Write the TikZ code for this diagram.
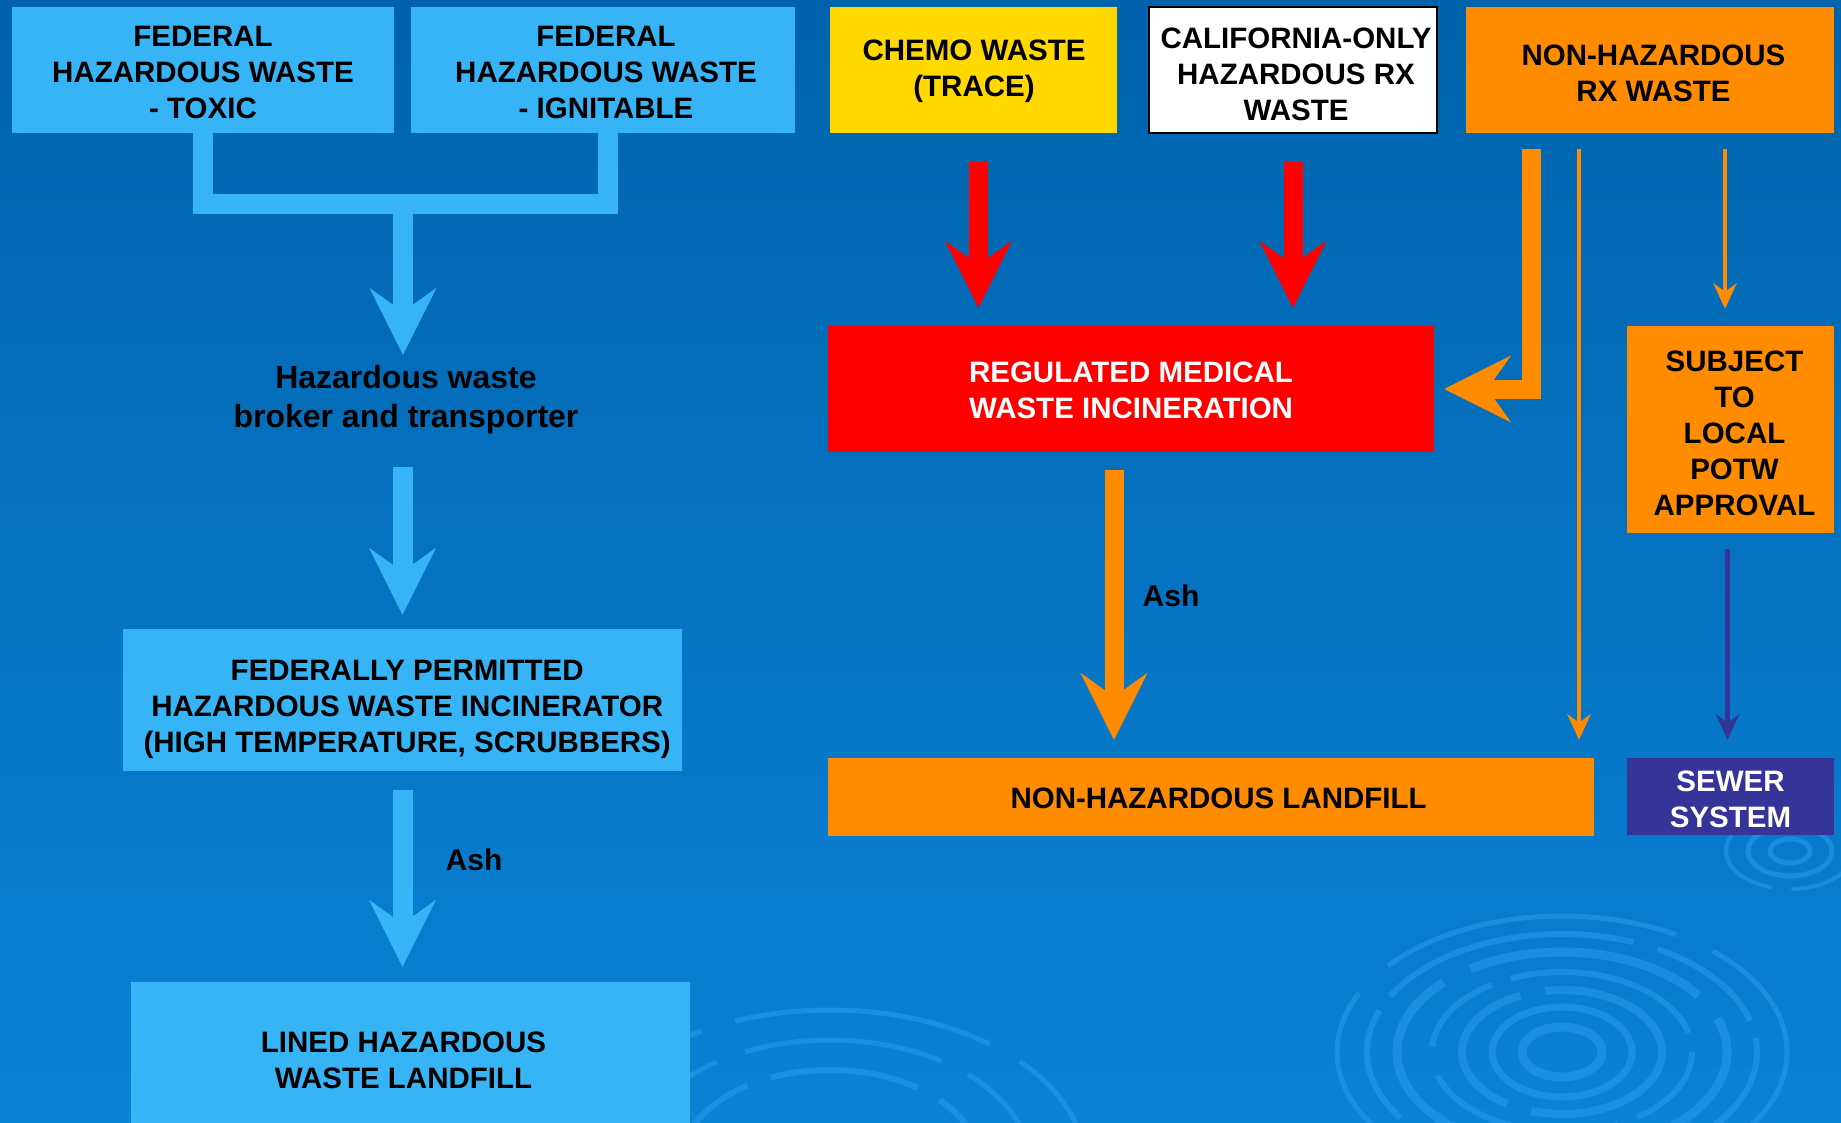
\documentclass[tikz,border=0pt]{standalone}
\usepackage{fontspec}
\setmainfont{Liberation Sans}
\usetikzlibrary{arrows.meta,calc}
\definecolor{bgtop}{HTML}{0063AC}
\definecolor{bgbot}{HTML}{0A82D6}
\definecolor{lblue}{HTML}{36B4F6}
\definecolor{ylw}{HTML}{FFD800}
\definecolor{org}{HTML}{FF8C00}
\definecolor{rd}{HTML}{FF0000}
\definecolor{prp}{HTML}{343499}
\definecolor{ripple}{HTML}{2A9BEE}
\begin{document}
\begin{tikzpicture}[x=1pt,y=-1pt,
  box/.style={inner sep=0pt},
  tx/.style={inner sep=0pt, align=center, font=\fontsize{29.5}{36}\selectfont\bfseries},
  lbl/.style={inner sep=0pt, align=center, font=\fontsize{30}{39}\selectfont\bfseries},
  bigtip/.style={-{Stealth[length=67pt, width=67pt, inset=24pt, line width=0pt]}},
  smalltip/.style={-{Stealth[length=26pt, width=24pt, inset=9pt, line width=0pt]}},
  lbar/.style={draw=lblue, line width=20pt, line join=miter},
  rbar/.style={draw=rd, line width=19pt, bigtip},
  obar/.style={draw=org, line width=19pt, line join=miter, bigtip},
  othin/.style={draw=org, line width=4.5pt, smalltip},
  pthin/.style={draw=prp, line width=4.5pt, smalltip},
  ring/.style={draw=ripple, opacity=0.55}
]
\useasboundingbox (0,0) rectangle (1841,1123);
\clip (0,0) rectangle (1841,1123);
\fill[top color=bgtop, bottom color=bgbot] (0,0) rectangle (1841,1123);

% decorative ripples
\begin{scope}
  \draw[ring, line width=9pt] (1562,1052) ellipse [x radius=40, y radius=25];
  \draw[ring, line width=7pt] (1562,1052) ellipse [x radius=70, y radius=45];
  \draw[ring, line width=8pt, dash pattern=on 160pt off 25pt] (1562,1052) ellipse [x radius=100, y radius=62];
  \draw[ring, line width=6pt, dash pattern=on 90pt off 20pt on 200pt off 30pt] (1562,1052) ellipse [x radius=130, y radius=80];
  \draw[ring, line width=9pt, dash pattern=on 240pt off 30pt] (1562,1052) ellipse [x radius=165, y radius=100];
  \draw[ring, line width=6pt, dash pattern=on 120pt off 18pt on 260pt off 25pt] (1562,1052) ellipse [x radius=195, y radius=118];
  \draw[ring, line width=5pt, dash pattern=on 300pt off 40pt] (1562,1052) ellipse [x radius=225, y radius=136];
  \draw[ring, line width=5pt] (1790,851) ellipse [x radius=20, y radius=12];
  \draw[ring, line width=5pt] (1790,851) ellipse [x radius=42, y radius=25];
  \draw[ring, line width=4pt, dash pattern=on 80pt off 20pt] (1790,851) ellipse [x radius=64, y radius=38];
  \draw[ring, line width=6pt, dash pattern=on 150pt off 25pt] (830,1165) ellipse [x radius=150, y radius=95];
  \draw[ring, line width=5pt, dash pattern=on 200pt off 30pt] (830,1165) ellipse [x radius=200, y radius=125];
  \draw[ring, line width=5pt, dash pattern=on 260pt off 35pt] (830,1165) ellipse [x radius=255, y radius=155];
\end{scope}

% boxes
\node[box, fill=lblue, minimum width=382pt, minimum height=126pt] (fedtox) at (203,70) {};
\node[box, fill=lblue, minimum width=384pt, minimum height=126pt] (fedign) at (603,70) {};
\node[box, fill=ylw, minimum width=287pt, minimum height=126pt] (chemo) at (973.5,70) {};
\node[box, fill=white, draw=black, line width=2pt, minimum width=288pt, minimum height=126pt] (calif) at (1293,70) {};
\node[box, fill=org, minimum width=368pt, minimum height=126pt] (nonhazrx) at (1650,70) {};
\node[box, fill=rd, minimum width=606pt, minimum height=126pt] (rmw) at (1131,389) {};
\node[box, fill=org, minimum width=207pt, minimum height=207pt] (potw) at (1730.5,429.5) {};
\node[box, fill=org, minimum width=766pt, minimum height=78pt] (nhlandfill) at (1211,797) {};
\node[box, fill=prp, minimum width=207pt, minimum height=77pt] (sewer) at (1730.5,796.5) {};
\node[box, fill=lblue, minimum width=559pt, minimum height=142pt] (fedinc) at (402.5,700) {};
\node[box, fill=lblue, minimum width=559pt, minimum height=153pt] (lined) at (410.5,1058.5) {};

% box texts
\node[tx] (fedtox-t) at (203,72.3) {FEDERAL\\HAZARDOUS WASTE\\- TOXIC};
\node[tx] (fedign-t) at (606,72.3) {FEDERAL\\HAZARDOUS WASTE\\- IGNITABLE};
\node[tx] (chemo-t) at (974,71.7) {CHEMO WASTE\\(TRACE)};
\node[tx] (calif-t) at (1296,74.7) {CALIFORNIA-ONLY\\HAZARDOUS RX\\WASTE};
\node[tx] (nonhazrx-t) at (1653.5,73.5) {NON-HAZARDOUS\\RX WASTE};
\node[tx, text=white] (rmw-t) at (1131,390.2) {REGULATED MEDICAL\\WASTE INCINERATION};
\node[tx] (potw-t) at (1734.5,433) {SUBJECT\\TO\\LOCAL\\POTW\\APPROVAL};
\node[tx] (nhlandfill-t) at (1218.6,798.2) {NON-HAZARDOUS LANDFILL};
\node[tx, text=white] (sewer-t) at (1730.5,799.5) {SEWER\\SYSTEM};
\node[tx] (fedinc-t) at (407.2,709.4) {FEDERALLY PERMITTED\\HAZARDOUS WASTE INCINERATOR\\(HIGH TEMPERATURE, SCRUBBERS)};
\node[tx] (lined-t) at (403.5,1060.3) {LINED HAZARDOUS\\WASTE LANDFILL};
\node[lbl, font=\fontsize{32}{39}\selectfont\bfseries] (broker) at (406,399.5) {Hazardous waste\\broker and transporter};
\node[lbl] (ash1) at (474,860) {Ash};
\node[lbl] (ash2) at (1171,596) {Ash};

% left connectors
\coordinate (fork) at (403,204);
\coordinate (ign) at ([xshift=5pt]fedign.south);
\draw[lbar] (fedtox.south) |- (ign |- fork) -- (ign);
\draw[lbar, bigtip, shorten >=10pt] (fork) -- (fork |- broker.north);
\draw[lbar, bigtip, shorten <=33pt, shorten >=14pt] (broker.south -| fedinc.north) -- (fedinc.north);
\draw[lbar, bigtip, shorten <=19pt, shorten >=15pt] (fedinc.south) -- (fedinc.south |- lined.north);

% right connectors
\coordinate (c1) at ([xshift=5pt]chemo.south);
\draw[rbar, shorten <=28pt, shorten >=18pt] (c1) -- (c1 |- rmw.north);
\draw[rbar, shorten <=28pt, shorten >=18pt] (calif.south) -- (calif.south |- rmw.north);
\coordinate (a0) at ($(nonhazrx.south)+(-119,16)$);
\draw[obar, shorten >=10pt] (a0) |- (rmw.east);
\coordinate (a1) at ($(nonhazrx.south)+(-71,16)$);
\draw[othin, shorten >=18pt] (a1) -- (a1 |- nhlandfill.north);
\coordinate (a2) at ($(nonhazrx.south)+(75,16)$);
\draw[othin, shorten >=17pt] (a2) -- (a2 |- potw.north);
\coordinate (a3) at ([xshift=-3pt]potw.south);
\draw[pthin, shorten <=16pt, shorten >=18pt] (a3) -- (a3 |- sewer.north);
\coordinate (a4) at ([xshift=-17pt]rmw.south);
\draw[obar, shorten <=18pt, shorten >=18pt] (a4) -- (a4 |- nhlandfill.north);
\end{tikzpicture}
\end{document}
